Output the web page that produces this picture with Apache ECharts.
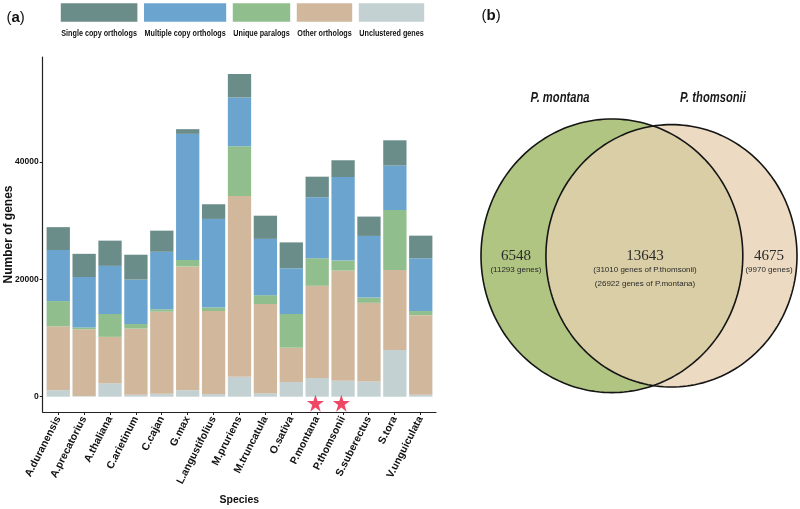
<!DOCTYPE html>
<html><head><meta charset="utf-8">
<script src="https://cdn.jsdelivr.net/npm/echarts@6/dist/echarts.min.js"></script>
<style>html,body{margin:0;padding:0;background:#fff}#c{width:800px;height:509px}</style>
</head><body><div id="c"></div>
<script>
// ---------- data ----------
const species = ['A.duranensis','A.precatorius','A.thaliana','C.arietinum','C.cajan','G.max','L.angustifolius','M.pruriens','M.truncatula','O.sativa','P.montana','P.thomsonii','S.suberectus','S.tora','V.unguiculata'];
const seriesNames = ['Single copy orthologs','Multiple copy orthologs','Unique paralogs','Other orthologs','Unclustered genes'];
const singleCopy     = [3900,3950,4300,4250,3600,800,2500,4000,3950,4400,3500,2850,3300,4300,3850];
const multiCopy      = [8700,8600,8200,7550,9800,21500,15100,8300,9600,7800,10400,14250,10500,7600,9000];
const uniqueParalogs = [4300,300,3900,800,400,1100,600,8500,1500,5750,4700,1700,900,10200,700];
const otherOrthologs = [10900,11400,7900,11250,14000,21100,14150,30800,15200,5850,15700,18800,13400,13650,13550];
const unclustered    = [1100,100,2300,350,500,1100,450,3400,600,2500,3200,2700,2600,7950,350];
const yTicks = [0,20000,40000];
const starredSpecies = ['P.montana','P.thomsonii'];
const starValue = -1100;
const vennSetNames = ['P. montana','P. thomsonii'];
const vennCounts = [6548, 13643, 4675];
const vennDetails = [['(11293 genes)'], ['(31010 genes of P.thomsonii)','(26922 genes of P.montana)'], ['(9970 genes)']];

// ---------- style ----------
const colors = {
  'Single copy orthologs':'#6b8d89',
  'Multiple copy orthologs':'#6ba5cf',
  'Unique paralogs':'#90bf8d',
  'Other orthologs':'#d1b89d',
  'Unclustered genes':'#c4d1d2'
};
const FONT = '"Liberation Sans",Arial,Helvetica,sans-serif';
const vennLayout = {leftCx:0, leftR:1, rightCx:0.455, rightR:0.959, labelX:[-0.733,0.253,1.2], nameX:[-0.396,0.772], nameY:1.153};
const vennColors = {left:'#b0c582', both:'#dacea6', right:'#ecdbc2', line:'#151515'};
const Y_MIN = -2610, Y_MAX = 57900;

// stacking order bottom -> top
const stackOrder = [
  ['Unclustered genes', unclustered],
  ['Other orthologs', otherOrthologs],
  ['Unique paralogs', uniqueParalogs],
  ['Multiple copy orthologs', multiCopy],
  ['Single copy orthologs', singleCopy]
];
const catPos = species.map((s,i)=>i+1);

const barSeries = stackOrder.map(([name, arr]) => ({
  name, type:'bar', stack:'genes', xAxisIndex:2, yAxisIndex:2,
  barWidth:23.3,
  itemStyle:{color:colors[name]},
  data: arr.slice()
}));

const starPath = 'path://M50,0 L61.8,35.1 L100,35.1 L69.1,57.6 L80.9,95.1 L50,72.6 L19.1,95.1 L30.9,57.6 L0,35.1 L38.2,35.1 Z';

// ---------- venn renderer ----------
function renderVenn(params, api) {
  const i = params.dataIndex;
  const L = vennLayout;
  const pt = (u,v) => api.coord([u,v]);
  const arc = (cx, r, a0, a1, n) => {
    const out = [];
    for (let k=0;k<=n;k++){ const a=a0+(a1-a0)*k/n; out.push(pt(cx+r*Math.cos(a), r*Math.sin(a))); }
    return out;
  };
  const d = L.rightCx - L.leftCx;
  const a = (d*d + L.leftR*L.leftR - L.rightR*L.rightR)/(2*d);
  const h = Math.sqrt(L.leftR*L.leftR - a*a);
  const children = [];
  if (i === 0) {
    children.push({type:'polygon', z2:1, shape:{points:arc(L.leftCx,L.leftR,0,Math.PI*2,200)}, style:{fill:vennColors.left}});
    children.push({type:'polygon', z2:4, shape:{points:arc(L.leftCx,L.leftR,0,Math.PI*2,200)}, style:{fill:'none', stroke:vennColors.line, lineWidth:1.6}});
  } else if (i === 2) {
    children.push({type:'polygon', z2:2, shape:{points:arc(L.rightCx,L.rightR,0,Math.PI*2,200)}, style:{fill:vennColors.right}});
    children.push({type:'polygon', z2:4, shape:{points:arc(L.rightCx,L.rightR,0,Math.PI*2,200)}, style:{fill:'none', stroke:vennColors.line, lineWidth:1.6}});
  } else {
    const phi = Math.atan2(h, a - L.rightCx);
    const psi = Math.atan2(h, a - L.leftCx);
    const pts = arc(L.rightCx, L.rightR, phi, 2*Math.PI - phi, 120).concat(arc(L.leftCx, L.leftR, -psi, psi, 120));
    children.push({type:'polygon', z2:3, shape:{points:pts}, style:{fill:vennColors.both}});
  }
  const c = pt(L.labelX[i], 0);
  children.push({type:'text', z2:6, x:c[0], y:c[1], style:{text:String(vennCounts[i]), fill:'#2a2a2a', font:'15px "Liberation Serif","Times New Roman",serif', textAlign:'center', textVerticalAlign:'middle'}});
  vennDetails[i].forEach((t,k)=>{
    children.push({type:'text', z2:6, x:c[0], y:c[1]+14+k*14, style:{text:t, fill:'#2a2a2a', font:'8px '+FONT, textAlign:'center', textVerticalAlign:'middle'}});
  });
  if (i === 0 || i === 2) {
    const ni = i === 0 ? 0 : 1;
    const p = pt(L.nameX[ni], L.nameY);
    children.push({type:'text', z2:6, x:p[0], y:p[1], scaleX:0.8, style:{text:vennSetNames[ni], fill:'#1a1a1a', font:'italic bold 14px '+FONT, textAlign:'center', textVerticalAlign:'middle'}});
  }
  return {type:'group', children};
}

// ---------- legend (keys above labels) ----------
const mctx = document.createElement('canvas').getContext('2d');
const legendFont = 'bold 9px ' + FONT;
const legendScale = 0.8;
mctx.font = legendFont;
const legendW = seriesNames.map(n => mctx.measureText(n).width * legendScale + 1);
const legendGap = 6.6;
const legendTotal = legendW.reduce((s,w)=>s+w,0) + legendGap*(seriesNames.length-1);
let lx = 242.5 - legendTotal/2;
const legendGraphics = [];
seriesNames.forEach((n,k)=>{
  legendGraphics.push({type:'rect', x:lx, y:3.3, shape:{width:legendW[k], height:18.4}, style:{fill:colors[n]}});
  legendGraphics.push({type:'text', x:lx+legendW[k]/2, y:33.3, scaleX:legendScale, style:{text:n, fill:'#111', font:legendFont, textAlign:'center', textVerticalAlign:'middle'}});
  lx += legendW[k] + legendGap;
});

const axisColor = '#222';
const option = {
  animation:false,
  backgroundColor:'#fff',
  grid:[
    {left:42.7, top:57, width:393.3, height:355, containLabel:false, outerBoundsMode:'none'},
    {left:481, top:119, width:316, height:273.6, containLabel:false, outerBoundsMode:'none'},
    {left:45.3, top:57, width:388.4, height:355, containLabel:false, outerBoundsMode:'none'}
  ],
  xAxis:[
    {type:'value', gridIndex:0, min:0.4, max:15.6,
     axisLine:{show:true, onZero:false, lineStyle:{color:axisColor, width:1.2}},
     axisTick:{show:true, customValues:catPos, length:3, lineStyle:{color:axisColor}},
     axisLabel:{customValues:catPos, formatter:v=>species[Math.round(v)-1], rotate:63, margin:5, color:'#111', fontWeight:'bold', fontFamily:FONT, fontSize:10.5},
     splitLine:{show:false},
     name:'Species', nameLocation:'middle', nameGap:83, nameMoveOverlap:false,
     nameTextStyle:{color:'#111', fontWeight:'bold', fontFamily:FONT, fontSize:10.5}
    },
    {type:'value', gridIndex:1, min:-1, max:1.414, show:false},
    {type:'category', gridIndex:2, data:species, show:false}
  ],
  yAxis:[
    {type:'value', gridIndex:0, min:Y_MIN, max:Y_MAX,
     axisLine:{show:true, onZero:false, lineStyle:{color:axisColor, width:1.2}},
     axisTick:{show:true, customValues:yTicks, length:3, lineStyle:{color:axisColor}},
     axisLabel:{customValues:yTicks, formatter:v=>String(v), margin:4, color:'#111', fontWeight:'bold', fontFamily:FONT, fontSize:8.5},
     splitLine:{show:false},
     name:'Number of genes', nameLocation:'middle', nameGap:28, nameRotate:90, nameMoveOverlap:false,
     nameTextStyle:{color:'#111', fontWeight:'bold', fontFamily:FONT, fontSize:12}
    },
    {type:'value', gridIndex:1, min:-1, max:1, show:false},
    {type:'value', gridIndex:2, min:Y_MIN, max:Y_MAX, show:false}
  ],
  graphic: [
    {type:'text', x:6.5, y:17.5, style:{text:'({b|a})', fill:'#111', font:'15px '+FONT, textVerticalAlign:'middle', rich:{b:{fontWeight:'bold', fontSize:15, fontFamily:FONT, fill:'#111'}}}},
    {type:'text', x:481.5, y:16.3, style:{text:'({b|b})', fill:'#111', font:'15px '+FONT, textVerticalAlign:'middle', rich:{b:{fontWeight:'bold', fontSize:15, fontFamily:FONT, fill:'#111'}}}}
  ].concat(legendGraphics),
  series: barSeries.concat([
    {type:'scatter', xAxisIndex:0, yAxisIndex:0, symbol:starPath, symbolSize:17, symbolOffset:[-1.5,0], z:5,
     itemStyle:{color:'#eb1a40'},
     data: starredSpecies.map(s=>[species.indexOf(s)+1, starValue])},
    {type:'custom', xAxisIndex:1, yAxisIndex:1, coordinateSystem:'cartesian2d', clip:false,
     renderItem: renderVenn,
     data: vennCounts.map((v,i)=>[i, v])}
  ])
};
const chart = echarts.init(document.getElementById('c'), null, {renderer:'canvas'});
chart.setOption(option);
</script>
</body></html>
